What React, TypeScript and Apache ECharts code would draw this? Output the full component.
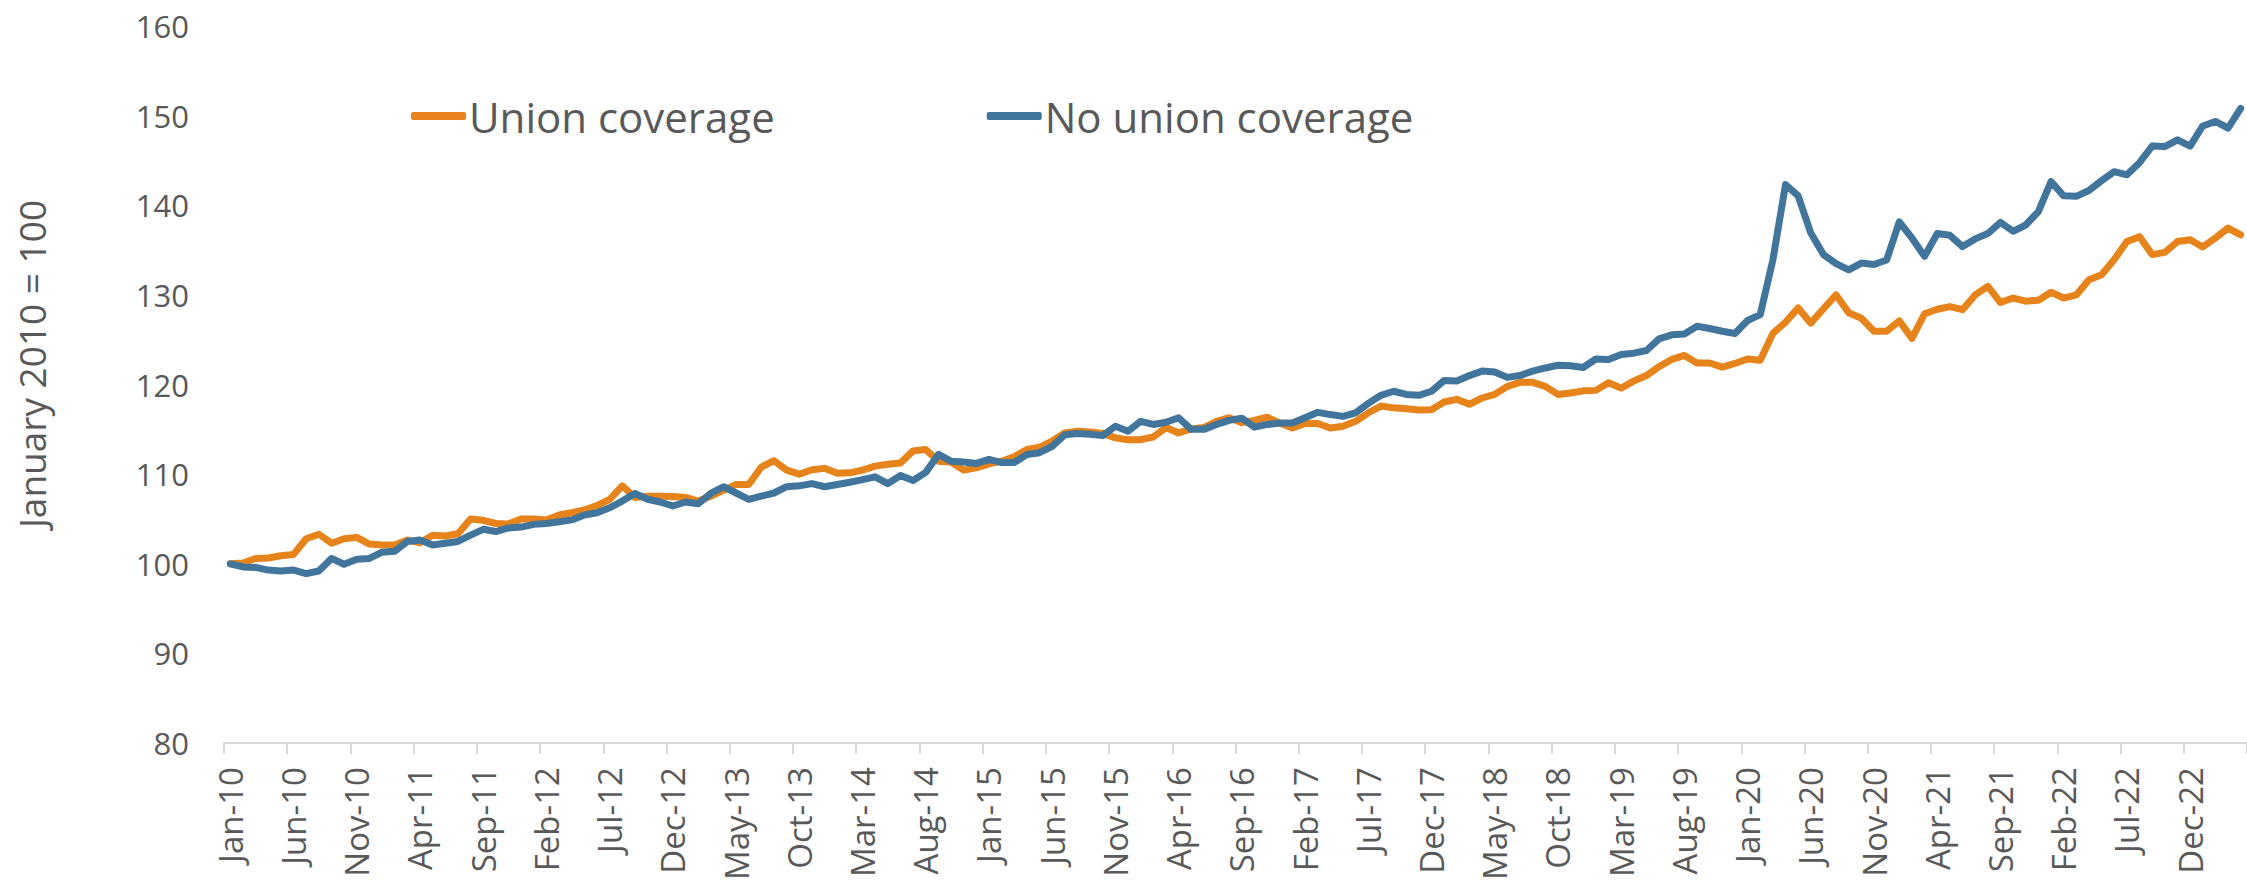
import React, { useEffect, useRef } from "react";
import * as echarts from "echarts";

const MONTHS = ["Jan", "Feb", "Mar", "Apr", "May", "Jun", "Jul", "Aug", "Sep", "Oct", "Nov", "Dec"];
const START_YEAR = 10;
const MONTH_COUNT = 160; // Jan-10 .. Apr-23
const categories: string[] = [];
for (let i = 0; i < MONTH_COUNT; i++) {
  categories.push(MONTHS[i % 12] + "-" + (START_YEAR + Math.floor(i / 12)));
}

const yTicks = [80, 90, 100, 110, 120, 130, 140, 150, 160];

const unionCoverage = [
  100.0, 100.1, 100.6, 100.65, 100.9, 101.05, 102.8, 103.3, 102.3, 102.8,
  102.95, 102.2, 102.1, 102.1, 102.65, 102.35, 103.2, 103.1, 103.35, 105.0,
  104.85, 104.5, 104.45, 105.0, 105.0, 104.9, 105.45, 105.7, 106.0, 106.5,
  107.2, 108.7, 107.4, 107.55, 107.55, 107.5, 107.4, 107.0, 107.55, 108.2,
  108.85, 108.85, 110.8, 111.5, 110.45, 110.0, 110.5, 110.65, 110.1, 110.15,
  110.45, 110.9, 111.1, 111.25, 112.6, 112.75, 111.45, 111.35, 110.45, 110.7,
  111.15, 111.45, 111.95, 112.75, 113.0, 113.7, 114.6, 114.8, 114.7, 114.55,
  114.05, 113.85, 113.85, 114.15, 115.2, 114.6, 115.05, 115.2, 115.9, 116.3,
  115.75, 116.0, 116.35, 115.7, 115.15, 115.65, 115.65, 115.15, 115.35, 115.9,
  116.85, 117.6, 117.4, 117.3, 117.15, 117.2, 118.05, 118.35, 117.8, 118.5,
  118.9, 119.8, 120.25, 120.25, 119.8, 118.9, 119.05, 119.3, 119.35, 120.2,
  119.6, 120.4, 121.0, 122.0, 122.8, 123.25, 122.4, 122.4, 121.95, 122.35,
  122.85, 122.7, 125.7, 126.95, 128.55, 126.85, 128.45, 130.0, 128.0, 127.4,
  125.95, 125.95, 127.1, 125.15, 127.9, 128.4, 128.7, 128.35, 130.0, 130.95,
  129.15, 129.65, 129.3, 129.4, 130.3, 129.65, 130.0, 131.7, 132.25, 133.95,
  135.95, 136.5, 134.5, 134.75, 135.95, 136.15, 135.35, 136.35, 137.45, 136.7,
];

const noUnionCoverage = [
  100.0, 99.65, 99.6, 99.3, 99.2, 99.3, 98.9, 99.2, 100.6, 99.95,
  100.5, 100.6, 101.3, 101.4, 102.5, 102.65, 102.1, 102.3, 102.5, 103.2,
  103.85, 103.6, 104.0, 104.1, 104.4, 104.5, 104.7, 104.9, 105.45, 105.7,
  106.25, 107.0, 107.85, 107.2, 106.9, 106.45, 106.9, 106.7, 107.85, 108.6,
  107.9, 107.2, 107.55, 107.9, 108.6, 108.7, 108.95, 108.6, 108.85, 109.1,
  109.4, 109.7, 108.95, 109.85, 109.3, 110.2, 112.2, 111.45, 111.35, 111.2,
  111.65, 111.3, 111.3, 112.2, 112.4, 113.1, 114.4, 114.55, 114.45, 114.3,
  115.35, 114.8, 115.9, 115.55, 115.8, 116.3, 115.0, 115.0, 115.55, 116.0,
  116.25, 115.25, 115.55, 115.7, 115.7, 116.3, 116.9, 116.65, 116.45, 116.85,
  117.9, 118.8, 119.25, 118.9, 118.8, 119.25, 120.45, 120.4, 121.0, 121.5,
  121.4, 120.8, 121.0, 121.5, 121.85, 122.15, 122.1, 121.9, 122.85, 122.8,
  123.35, 123.5, 123.8, 125.1, 125.55, 125.65, 126.5, 126.25, 125.95, 125.7,
  127.15, 127.8, 133.9, 142.3, 141.05, 136.9, 134.5, 133.5, 132.8, 133.55,
  133.4, 133.9, 138.15, 136.35, 134.3, 136.85, 136.65, 135.4, 136.25, 136.85,
  138.1, 137.1, 137.8, 139.3, 142.65, 141.05, 141.0, 141.65, 142.75, 143.75,
  143.4, 144.75, 146.6, 146.55, 147.3, 146.6, 148.85, 149.35, 148.6, 150.8,
];

const ORANGE = "#E6831A";
const BLUE = "#41759C";
const TEXT = "#595959";
const FONT = "'Open Sans', 'Noto Sans', sans-serif";

export default function App() {
  const ref = useRef<HTMLDivElement>(null);

  useEffect(() => {
    if (!ref.current) return;
    const chart = echarts.init(ref.current, undefined, { renderer: "svg" });
    chart.setOption({
      animation: false,
      backgroundColor: "#ffffff",
      grid: { left: 224, right: 0, top: 26, bottom: 139, containLabel: false },
      legend: {
        left: 406,
        top: 90,
        icon: "roundRect",
        itemWidth: 55,
        itemHeight: 8,
        itemGap: 212,
        textStyle: { fontSize: 42, color: TEXT, fontFamily: FONT, padding: [0, 0, 0, -2] },
        data: ["Union coverage", "No union coverage"],
      },
      graphic: [
        {
          type: "text",
          x: 31,
          y: 364,
          rotation: Math.PI / 2,
          style: {
            text: "January 2010 = 100",
            fontSize: 37,
            fontFamily: FONT,
            fill: TEXT,
            textAlign: "center",
            textVerticalAlign: "middle",
          },
        },
      ],
      xAxis: {
        type: "category",
        data: categories,
        boundaryGap: true,
        axisLine: { show: true, lineStyle: { color: "#D9D9D9", width: 2 } },
        axisTick: { show: true, interval: 4, length: 11, lineStyle: { color: "#D9D9D9", width: 2 } },
        axisLabel: {
          interval: 4,
          rotate: 90,
          margin: 24,
          fontSize: 33,
          fontFamily: FONT,
          color: TEXT,
        },
        splitLine: { show: false },
      },
      yAxis: {
        type: "value",
        min: yTicks[0],
        max: yTicks[yTicks.length - 1],
        interval: 10,
        axisLine: { show: false },
        axisTick: { show: false },
        splitLine: { show: false },
        axisLabel: { margin: 35, fontSize: 31, fontFamily: FONT, color: TEXT },
      },
      series: [
        {
          name: "Union coverage",
          type: "line",
          data: unionCoverage,
          symbol: "none",
          smooth: false,
          color: ORANGE,
          lineStyle: { color: ORANGE, width: 7, cap: "round", join: "round" },
        },
        {
          name: "No union coverage",
          type: "line",
          data: noUnionCoverage,
          symbol: "none",
          smooth: false,
          color: BLUE,
          lineStyle: { color: BLUE, width: 7, cap: "round", join: "round" },
        },
      ],
    });
    return () => chart.dispose();
  }, []);

  return (
    <div
      ref={ref}
      style={{ position: "fixed", left: 0, top: 0, width: 2247, height: 883, background: "#fff" }}
    />
  );
}
